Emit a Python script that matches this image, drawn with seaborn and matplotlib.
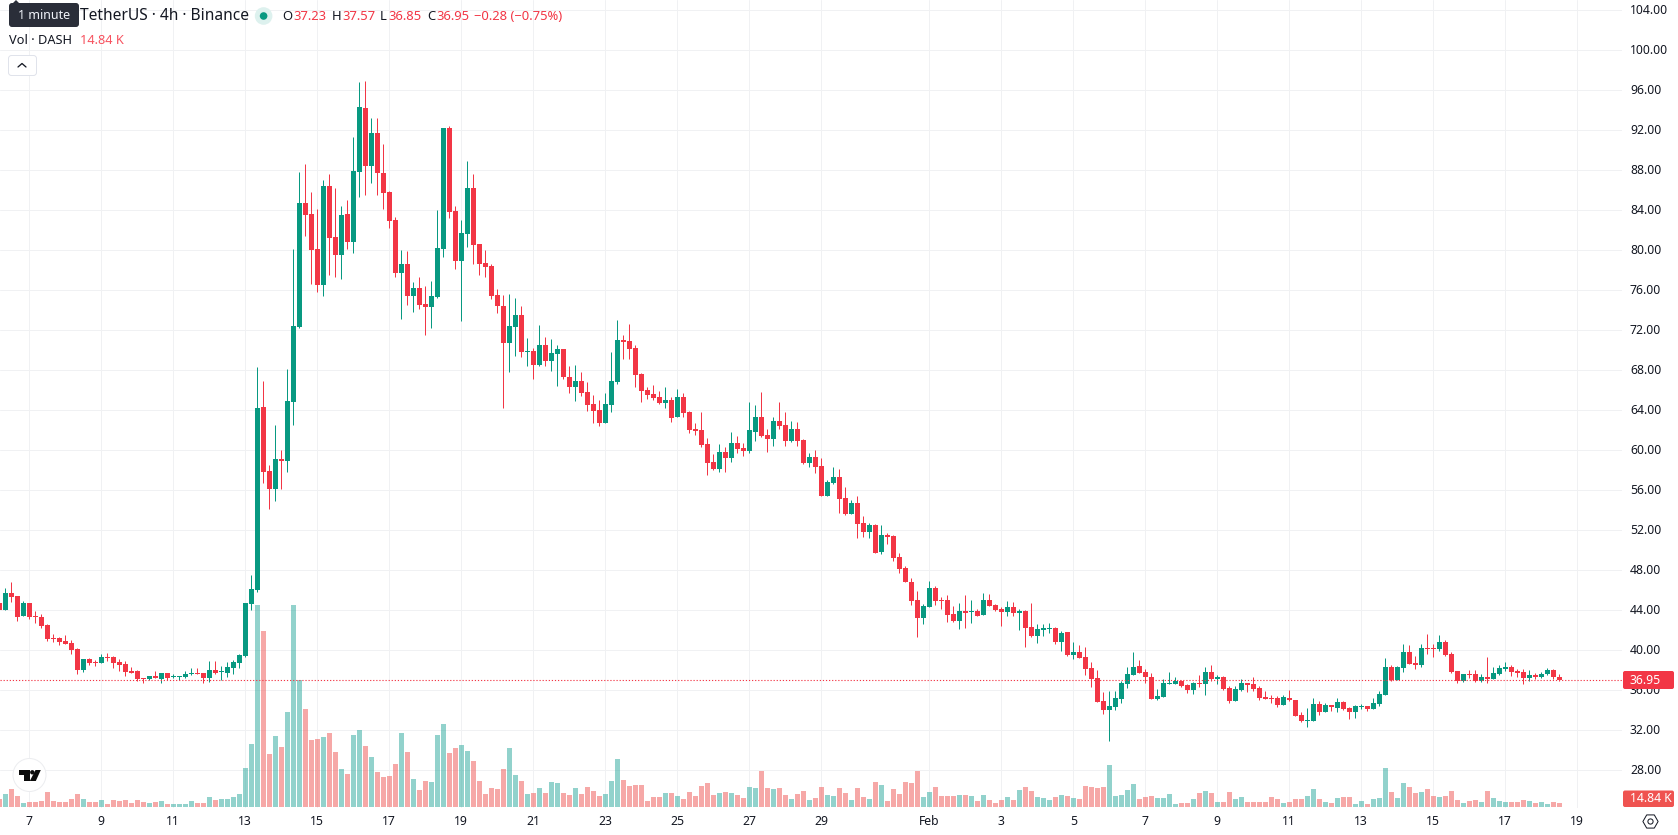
import matplotlib
matplotlib.use("Agg")
import matplotlib.pyplot as plt
from matplotlib.patches import Circle, FancyBboxPatch, Polygon, RegularPolygon
from matplotlib.transforms import ScaledTranslation
import numpy as np
import pandas as pd
import seaborn as sns

# 4h DASH/USDT candles; index 0 is the first bar of the 7th
opens = [
    44.65,43.95,45.65,45.35,43.35,44.65,43.35,43.25,42.45,41.15,
    41.15,40.85,40.65,40.05,37.95,39.05,38.75,38.65,39.25,39.25,
    38.75,38.55,37.85,37.85,37.2,37.05,37.35,37.05,37.65,37.25,
    37.25,37.25,37.55,37.65,37.65,37.15,37.95,37.8,37.65,38.15,
    38.65,39.35,44.55,
    45.95,64.25,57.85,56.05,59.05,58.85,64.75,72.25,84.65,83.55,
    80.05,76.45,86.35,81.25,79.45,83.55,80.75,87.75,94.15,88.35,
    91.65,87.65,85.75,82.95,77.65,78.55,75.35,76.15,74.55,74.25,
    75.25,80.05,92.15,83.85,78.85,81.55,86.15,80.55,78.65,78.35,
    75.45,74.35,70.65,72.25,73.45,69.75,69.85,68.45,70.45,68.85,
    69.55,70.05,67.25,66.25,66.85,65.75,64.55,63.95,62.65,64.45,
    66.75,70.95,70.85,70.15,67.55,65.95,65.55,65.25,64.65,64.95,
    63.25,65.25,63.75,62.05,61.95,60.55,58.75,58.05,59.75,59.15,
    60.65,60.15,59.85,61.75,63.25,61.45,61.05,62.85,62.45,60.85,
    62.05,60.95,58.65,59.25,58.35,55.35,56.65,57.25,55.15,53.55,
    54.65,52.65,51.75,52.45,49.75,51.45,51.35,49.25,48.15,46.75,
    44.95,43.15,44.25,46.15,44.95,44.95,43.55,42.85,43.85,43.75,
    43.85,43.45,44.95,44.45,44.05,43.75,44.25,43.65,43.85,42.25,
    41.35,41.95,42.05,42.15,40.75,41.75,39.45,39.75,39.25,38.15,
    37.15,34.85,33.95,34.25,35.05,36.55,37.45,38.35,37.75,37.25,
    35.05,35.25,36.55,36.55,36.85,36.45,35.95,36.65,36.55,37.75,
    37.05,37.25,36.15,34.85,35.95,36.65,36.55,36.15,35.25,35.15,
    35.15,34.45,35.15,34.95,33.45,32.85,32.85,34.55,33.75,34.45,
    34.15,34.75,34.15,33.75,34.25,34.35,34.05,34.55,35.45,38.25,
    36.95,38.15,39.75,38.65,38.45,40.15,40.15,40.05,40.75,39.55,
    37.85,36.85,37.55,37.55,36.85,37.25,37.05,37.55,38.05,38.25,
    37.85,37.75,37.2,37.45,37.3,37.6,37.95,37.23,
]
highs = [
    44.9,46.2,46.75,45.35,44.85,44.65,43.85,43.55,42.55,41.55,
    41.25,41.45,40.95,40.15,39.05,39.15,38.95,39.55,39.65,39.35,
    39.05,38.85,38.25,37.95,37.2,37.35,37.85,37.65,37.65,37.55,
    37.35,37.85,38.15,38.15,37.65,38.85,38.85,38.35,38.75,38.95,
    39.55,44.65,47.45,
    68.25,66.85,58.45,62.45,59.95,68.05,80.05,87.75,88.55,85.75,
    84.05,86.95,87.55,86.15,84.35,84.95,91.25,96.75,96.85,93.15,
    93.15,90.55,85.85,83.25,79.95,79.85,76.75,77.25,76.35,76.85,
    83.95,92.15,92.35,84.35,82.95,88.85,87.55,80.55,79.95,78.55,
    76.05,75.45,75.55,75.15,74.35,71.15,70.15,72.45,71.25,71.05,
    70.45,70.05,68.35,68.45,67.75,66.75,65.45,64.95,65.65,69.75,
    72.95,71.45,72.55,70.45,67.65,66.25,66.45,65.85,66.25,65.25,
    66.05,65.65,63.85,62.65,63.75,61.15,59.55,60.55,60.25,61.75,
    61.35,60.65,64.75,64.45,65.75,62.05,63.25,64.75,63.75,62.85,
    62.75,61.05,59.65,59.95,59.15,56.95,58.25,58.05,56.25,54.95,
    55.35,53.35,52.65,52.55,52.45,51.65,51.45,49.65,48.35,47.15,
    45.85,44.55,46.85,46.35,45.25,45.45,44.35,44.65,45.45,44.95,
    44.05,45.65,45.55,44.55,44.25,44.85,44.75,44.05,43.95,44.65,
    42.55,42.55,42.65,42.25,41.85,41.75,40.75,40.45,40.25,38.75,
    37.95,35.75,35.85,35.85,36.85,38.25,39.75,38.95,38.05,37.65,
    36.05,37.05,37.75,37.25,36.95,36.55,36.75,37.45,38.25,38.45,
    37.45,37.35,36.35,36.35,37.05,36.65,37.25,36.35,35.85,35.45,
    35.35,35.45,35.95,34.95,33.75,34.15,35.15,34.85,34.65,34.45,
    35.15,34.85,34.25,34.45,34.55,34.35,35.15,35.85,39.15,38.45,
    38.35,40.55,40.45,39.35,40.55,41.55,40.55,41.45,40.95,39.75,
    37.85,37.55,37.95,37.95,37.55,39.25,38.25,38.45,38.75,38.45,
    38.05,38.05,37.95,37.7,37.8,38.2,38.1,37.57,
]
lows = [
    43.85,43.95,44.75,42.85,43.35,43.05,42.65,42.15,40.85,40.75,
    40.45,40.55,39.55,37.55,37.75,38.45,38.35,38.65,38.85,38.15,
    37.85,37.35,37.65,36.85,36.65,36.95,37.15,36.65,36.95,37.15,
    36.95,37.15,37.45,37.55,36.65,36.75,37.55,36.95,37.25,37.55,
    38.15,39.25,43.95,
    45.75,56.65,54.05,54.85,56.05,57.75,62.45,72.15,81.35,76.55,
    75.75,75.35,77.45,77.25,77.05,80.05,79.65,85.25,85.45,86.65,
    85.45,84.05,82.15,77.25,73.05,74.45,73.75,74.05,71.45,72.15,
    75.15,79.25,83.15,78.05,72.85,80.25,78.55,77.45,77.25,75.05,
    73.65,64.15,67.75,69.35,69.25,68.35,67.05,68.35,68.35,67.85,
    66.35,67.05,65.65,64.85,65.35,63.85,62.65,62.35,62.65,63.75,
    66.55,69.05,69.05,66.25,64.75,65.05,64.95,64.55,64.15,62.75,
    63.25,63.25,61.65,61.45,60.25,57.45,57.95,57.75,57.75,58.75,
    59.65,59.35,59.65,60.85,61.25,59.75,60.35,62.05,60.35,60.75,
    60.35,58.55,58.25,57.65,55.35,55.35,56.55,53.65,53.45,53.55,
    51.15,51.25,51.15,49.65,49.55,50.55,48.85,47.65,46.75,44.45,
    41.25,42.55,44.25,44.45,44.05,42.75,42.75,42.05,42.15,42.65,
    43.35,43.45,44.35,43.85,42.35,43.35,43.35,41.95,40.25,41.25,
    40.65,41.35,41.65,40.55,39.85,39.35,39.05,39.15,37.45,36.25,
    34.75,33.55,30.85,33.95,34.65,36.15,37.45,37.65,36.65,35.05,
    34.95,35.25,36.55,36.55,36.25,35.65,35.55,36.25,35.45,36.85,
    36.55,35.95,34.65,34.85,35.85,35.75,35.85,34.95,35.05,34.65,
    34.25,34.45,34.85,33.35,32.75,32.25,32.85,33.45,33.75,33.85,
    33.75,33.95,33.05,33.15,34.05,33.85,34.05,34.35,35.45,36.85,
    36.95,37.75,38.55,38.05,38.25,39.55,39.25,39.85,39.35,37.65,
    36.65,36.75,37.15,36.75,36.75,36.65,37.05,37.45,37.85,37.35,
    37.25,36.55,36.85,37.05,37.2,37.5,37.1,36.85,
]
closes = [
    43.95,45.65,45.25,43.25,44.65,43.25,43.25,42.35,41.05,41.05,
    40.75,40.55,39.95,37.95,39.05,38.65,38.69,39.25,39.15,38.65,
    38.45,37.75,37.65,37.05,37.1,37.35,37.15,37.65,37.15,37.35,
    37.35,37.55,37.65,37.55,37.15,37.95,37.65,37.85,38.25,38.75,
    39.45,44.65,46.05,
    64.15,57.75,56.05,59.05,58.85,64.85,72.35,84.65,83.45,79.95,
    76.45,86.35,81.15,79.45,83.45,80.75,87.85,94.25,88.35,91.65,
    87.65,85.65,82.85,77.65,78.55,75.35,76.15,74.45,74.25,75.35,
    80.15,92.15,83.75,78.85,81.65,86.15,80.45,78.55,78.25,75.35,
    74.35,70.65,72.35,73.45,69.75,69.85,68.45,70.45,68.85,69.65,
    70.05,67.25,66.25,66.85,65.65,64.45,63.85,62.65,64.55,66.85,
    70.95,70.75,70.05,67.45,65.85,65.45,65.15,64.65,64.95,63.15,
    65.25,63.65,61.95,61.85,60.45,58.65,58.05,59.75,59.15,60.65,
    60.05,59.85,61.95,63.25,61.35,61.05,62.85,62.35,60.85,62.05,
    60.85,58.65,59.25,58.25,55.35,56.75,57.25,55.05,53.55,54.65,
    52.55,51.75,52.45,49.65,51.45,51.25,49.15,48.05,46.75,44.85,
    43.15,44.35,46.15,44.85,44.85,43.45,42.85,43.85,43.65,43.85,
    43.35,44.95,44.35,43.95,43.75,44.25,43.65,43.85,42.15,41.35,
    42.05,42.15,42.15,40.75,41.65,39.45,39.75,39.15,38.05,37.05,
    34.75,33.95,34.35,35.15,36.65,37.55,38.25,37.65,37.25,35.05,
    35.35,36.65,36.65,36.85,36.35,35.95,36.65,36.55,37.75,37.05,
    37.25,36.05,34.85,36.05,36.65,36.45,36.05,35.15,35.05,35.05,
    34.45,35.25,34.95,33.35,32.85,32.95,34.55,33.75,34.45,34.25,
    34.75,34.05,33.75,34.35,34.35,34.05,34.65,35.55,38.25,36.95,
    38.25,39.75,38.55,38.45,40.15,40.1,40.1,40.75,39.45,37.75,
    36.85,37.55,37.45,36.85,37.25,37.05,37.65,38.15,38.25,37.75,
    37.65,37.15,37.45,37.3,37.6,37.95,37.23,36.95,
]
# Volume in thousands of DASH
volumes = [
    28,46,63,39,14,18,18,21,53,21,18,18,28,46,28,18,18,25,11,25,21,25,14,25,18,
    14,18,21,11,11,11,11,21,14,14,35,25,28,28,35,46,137,221,707,616,
    186,249,210,333,707,445,343,235,238,245,259,193,133,116,252,270,214,175,123,
    105,109,151,259,193,98,60,91,88,252,291,189,207,217,196,161,91,46,67,
    63,133,207,112,91,46,49,67,49,88,84,49,42,67,46,70,56,39,46,91,168,95,74,77,
    77,21,35,35,49,49,39,28,53,39,74,84,42,49,53,49,42,32,70,67,126,67,63,67,42,
    28,46,56,25,32,70,42,39,67,49,25,67,35,28,88,77,21,63,46,88,84,126,35,53,70,
    39,39,39,42,42,39,21,42,25,14,
    24.5,35,24.5,59.5,70,56,35,31.5,24.5,35,42,38.5,31.5,28,73.5,70,66.5,70,147,
    38.5,42,59.5,80.5,28,35,38.5,31.5,31.5,45.5,10.5,14,14,28,49,56,49,17.5,17.5,
    52.5,28,35,17.5,17.5,17.5,17.5,35,28,14,17.5,28,28,38.5,63,28,17.5,14,31.5,35,
    35,10.5,21,10.5,28,31.5,136.5,52.5,31.5,84,70,49,52.5,63,38.5,35,38.5,56,24.5,
    14,21,24.5,17.5,56,31.5,21,17.5,17.5,17.5,24.5,21,14,17.5,10.5,17.5,14.84,
]
first_bar = -5

price_ticks = list(range(28, 105, 4))
date_labels = ["7", "9", "11", "13", "15", "17", "19", "21", "23", "25", "27", "29",
               "Feb", "3", "5", "7", "9", "11", "13", "15", "17", "19"]
date_bars = [0, 12, 24, 36, 48, 60, 72, 84, 96, 108, 120, 132,
             150, 162, 174, 186, 198, 210, 222, 234, 246, 258]

UP = "#089981"
DOWN = "#F23645"
VOL_UP = "#26A69A"
VOL_DOWN = "#EF5350"
INK = "#131722"
GRID = "#F0F1F3"

WIDTH, HEIGHT = 1678, 835
PANE_W, PANE_H = 1622, 808
PX = 72 / 100

sns.set_theme(style="white")
plt.rcParams["font.family"] = ["Noto Sans", "DejaVu Sans"]

df = pd.DataFrame({"open": opens, "high": highs, "low": lows, "close": closes, "volume": volumes})
df["bar"] = np.arange(len(df)) + first_bar
df["side"] = np.where(df["close"] >= df["open"], "up", "down")

fig = plt.figure(figsize=(WIDTH / 100, HEIGHT / 100), dpi=100, facecolor="white")
rect = [0, (HEIGHT - PANE_H) / HEIGHT, PANE_W / WIDTH, PANE_H / HEIGHT]
bar_lim = (-29.33 / 6, (PANE_W - 29.33) / 6)
price_lim = (104 - (PANE_H - 9.5) / 10, 104 + 9.5 / 10)
vol_per_px = 3.5

# Grid and both scales
ax_grid = fig.add_axes(rect, zorder=0)
ax_grid.set_xlim(bar_lim)
ax_grid.set_ylim(price_lim)
ax_grid.yaxis.tick_right()
ax_grid.set_yticks(price_ticks, [f"{p:.2f}" for p in price_ticks])
ax_grid.set_xticks(date_bars, date_labels)
ax_grid.grid(True, color=GRID, linewidth=1 * PX)
ax_grid.tick_params(axis="both", length=0, labelsize=12.2 * PX, labelcolor=INK)
ax_grid.tick_params(axis="y", pad=8 * PX)
ax_grid.tick_params(axis="x", pad=7 * PX)
for label_obj in ax_grid.get_yticklabels():
    label_obj.set_transform(label_obj.get_transform() + ScaledTranslation(0, 1 / 100, fig.dpi_scale_trans))
for label_obj in ax_grid.get_xticklabels():
    if label_obj.get_text() == "Feb":
        label_obj.set_fontweight("bold")
sns.despine(ax=ax_grid, left=True, bottom=True, right=True, top=True)

# Volume bars along the bottom of the pane
ax_vol = fig.add_axes(rect, zorder=1)
ax_vol.patch.set_alpha(0)
sns.barplot(data=df, x="bar", y="volume", hue="side", hue_order=["up", "down"],
            palette={"up": VOL_UP, "down": VOL_DOWN}, dodge=False, native_scale=True,
            width=5 / 6, gap=0, errorbar=None, legend=False, saturation=1, alpha=0.5,
            linewidth=0, ax=ax_vol)
ax_vol.set_xlim(bar_lim)
ax_vol.set_ylim(-vol_per_px, (PANE_H - 1) * vol_per_px)
ax_vol.axis("off")

# Candles and the last-price line
ax = fig.add_axes(rect, zorder=2)
ax.patch.set_alpha(0)
for side, colour in (("up", UP), ("down", DOWN)):
    part = df[df["side"] == side]
    ax.vlines(part["bar"], part["low"], part["high"], color=colour, linewidth=1 * PX)
    low_edge = part[["open", "close"]].min(axis=1)
    span = (part["close"] - part["open"]).abs().clip(lower=0.1)
    ax.bar(part["bar"], span, bottom=low_edge, width=5 / 6, color=colour, linewidth=0)
ax.axhline(closes[-1], color=DOWN, linewidth=1.1 * PX, linestyle=(0, (1.1, 1.7)))
ax.set_xlim(bar_lim)
ax.set_ylim(price_lim)
ax.axis("off")

# Overlay in screen pixels for the header, tags and logo
ui = fig.add_axes([0, 0, 1, 1], zorder=5)
ui.set_xlim(0, WIDTH)
ui.set_ylim(HEIGHT, 0)
ui.axis("off")
ui.patch.set_alpha(0)


def label(x, y, text, size=13, color=INK, **kw):
    kw.setdefault("ha", "left")
    kw.setdefault("va", "center")
    ui.text(x, y, text, fontsize=size * PX, color=color, **kw)


def box(x0, y0, x1, y1, radius, **kw):
    ui.add_patch(FancyBboxPatch((x0 + radius, y0 + radius), x1 - x0 - 2 * radius, y1 - y0 - 2 * radius,
                                boxstyle=f"round,pad={radius},rounding_size={radius}", **kw))


# Header
box(9, 3, 79, 27, 3, facecolor="#2A2E39", edgecolor="none")
ui.add_patch(Polygon([[12, 4], [16, 0], [20, 4]], facecolor="#2A2E39", edgecolor="none"))
label(44, 15.5, "1 minute", size=12.5, color="#F0F3FA", ha="center")
label(80, 16, "TetherUS · 4h · Binance", size=15.6)
ui.add_patch(Circle((263.6, 16), 8.8, facecolor="#DDF1EE", edgecolor="none"))
ui.add_patch(Circle((263.6, 16), 3.8, facecolor=UP, edgecolor="none"))
for x, text, colour in [(282, "O", INK), (293, "37.23", DOWN), (332, "H", INK), (342, "37.57", DOWN),
                        (380, "L", INK), (388, "36.85", DOWN), (427, "C", INK), (436, "36.95", DOWN),
                        (474, "−0.28 (−0.75%)", DOWN)]:
    label(x, 16, text, size=13, color=colour)
label(9, 40.5, "Vol · DASH", size=12.8)
label(80, 40.5, "14.84 K", size=12.8, color="#F7525F")
box(8.5, 55.5, 36.5, 75.5, 3, facecolor="white", edgecolor="#E0E3EB", linewidth=1 * PX)
ui.plot([18, 22, 26], [67, 63.5, 67], color=INK, linewidth=1.3 * PX)

# Value tags on the price scale
box(1623, 671, 1674, 689, 2, facecolor=DOWN, edgecolor="none")
label(1630, 680, f"{closes[-1]:.2f}", size=12.2, color="white")
box(1623, 790.5, 1674, 807, 2, facecolor=VOL_DOWN, edgecolor="none")
label(1630, 798.5, f"{volumes[-1]:.2f} K", size=12.2, color="white")

# Settings icon
ui.add_patch(RegularPolygon((1650.5, 821.5), 6, radius=7.6, orientation=np.pi / 6,
                            facecolor="none", edgecolor=INK, linewidth=1 * PX))
ui.add_patch(Circle((1650.5, 821.5), 2.6, facecolor="none", edgecolor=INK, linewidth=1 * PX))

# Logo badge
ui.add_patch(Circle((29.5, 775), 16.5, facecolor="white", edgecolor="#ECEDF0", linewidth=1 * PX))
ui.add_patch(Polygon([[19, 770], [29.7, 770], [29.7, 781], [24, 781], [24, 774.5], [19, 774.5]],
                     facecolor="#0B0B0B", edgecolor="none"))
ui.add_patch(Circle((32.3, 772.3), 2.2, facecolor="#0B0B0B", edgecolor="none"))
ui.add_patch(Polygon([[35.5, 770], [40.8, 770], [35.8, 781], [29.8, 781]], facecolor="#0B0B0B", edgecolor="none"))

fig.savefig("out.png", dpi=100, facecolor="white")
